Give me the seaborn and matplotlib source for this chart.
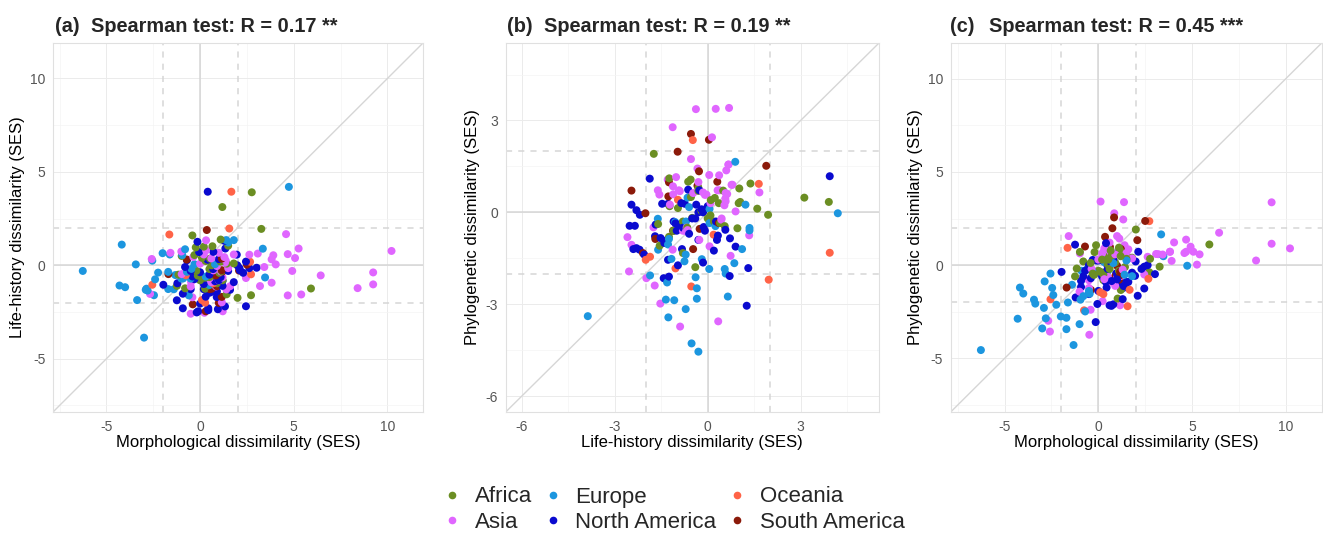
import numpy as np
import pandas as pd
import matplotlib
matplotlib.use("Agg")
import matplotlib.pyplot as plt
from matplotlib.lines import Line2D
from matplotlib.ticker import MultipleLocator
import seaborn as sns

# ---------------- data (SES values per community) ----------------
regions = ["Africa", "Asia", "Europe", "North America", "Oceania", "South America"]
region_colors = ["#6B8E23", "#E066FF", "#1C96DF", "#0A0ACF", "#FF6347", "#8B1A0A"]

africa_morph = [2.76, 1.19, 3.27, -0.41, 1.1, 0.66, 1.5, 0.2, -0.23, -0.98, 2.0, 2.72, 1.03, 1.42,
                -1.24, -0.12, 0.5, 1.8, 0.3, -0.8, 0.9, 0.4, 1.2, 0.6, 1.1, 0.1, -0.3, -1.15, 1.16,
                0.5, 0.0, 0.27, 0.53, 1.42, 0.27, 0.71, -0.2, 5.92]
africa_life = [3.91, 3.12, 1.95, 1.6, 1.38, 1.02, 1.05, 1.0, 0.96, 0.5, -1.74, -1.6, -0.4, -1.55,
               -1.1, -0.55, -0.63, 0.1, 0.23, -1.23, -0.96, -1.1, -0.8, 0.0, 0.2, 0.4, 0.55, -0.5, -0.3,
               -0.2, -0.8, -0.66, 0.36, 0.09, -1.25, -0.54, -0.3, -1.24]
africa_phylo = [0.34, 0.48, -0.08, 0.12, 0.94, 0.78, 0.34, 0.3, -0.52, 0.71, 1.91, -0.38, -1.79, -1.09,
                -0.6, 1.07, 1.0, 0.4, 0.47, 0.2, 0.14, -0.6, -1.33, -0.2, -0.3, -0.35, -0.45, -0.18, 0.8,
                0.05, -0.3, -0.5, 0.3, -0.1, -0.8, 0.5, 0.7, 1.11]

asia_morph = [10.22, 9.24, 9.24, 8.41, 6.44, 5.4, 5.26, 5.07, 4.92, 4.68, 4.68, 4.59, 4.04, 3.91, 3.82,
              3.82, 3.43, 3.2, 3.08, 2.63, 2.45, 1.37, 0.12, 0.85, 1.33, 1.12, -1.58, -2.67, -2.58, -0.48,
              -0.41, -1.0, 0.23, -0.5, 1.21, 1.16, 1.1, 0.32, 0.32, -0.98, 1.6, -0.5, 0.6, 1.5, 0.9,
              0.2, 1.8, 0.9, 1.3, 1.0, 0.5, 1.2, 1.0, 0.6, 1.4, 0.71, 0.0, -0.36]
asia_life = [0.77, -0.38, -1.02, -1.22, -0.54, -1.56, 0.9, 0.39, -0.3, 0.6, -1.61, 1.67, 0.05, 0.54, 0.32,
             -0.93, -0.09, -1.11, 0.63, 0.57, -0.68, 0.26, 0.69, -1.13, 0.14, -0.33, 0.67, -1.53, 0.34, -0.89,
             -1.71, 0.74, -2.54, -2.59, -2.46, -1.98, -1.75, 1.34, 0.8, -0.47, -1.12, -1.13, -0.9, -0.15, -0.04,
             0.58, 0.58, 0.06, 0.44, -0.8, -0.7, -0.65, 0.67, 0.37, -1.29, -0.27, 0.09, 0.45]
asia_phylo = [0.9, 3.37, 1.15, 0.25, 1.74, 0.58, 0.03, 0.72, 0.99, 1.37, 0.72, 0.65, 1.22, 0.23, 0.72,
              0.72, 0.57, 0.59, 0.6, 0.45, -0.5, 3.38, 3.41, 2.78, 2.45, 1.43, 1.56, -2.98, -3.56, -3.73,
              -2.39, -1.42, -1.93, -0.81, -1.06, -2.15, -0.49, -0.75, 0.9, 0.63, 0.85, -1.22, 0.69, 0.65, 0.58,
              0.63, 0.36, -1.11, -0.24, -0.6, -0.62, -0.58, 1.56, 1.21, 1.07, -0.9, 0.3, -0.2]

europe_morph = [-6.26, -4.18, -4.3, -4.0, -3.43, -3.36, -2.99, -2.9, -2.8, -2.46, -2.55, -2.0, -2.24,
                -2.4, -1.62, -1.32, -0.8, -0.46, 4.74, 3.35, 3.47, 1.4, 1.8, -1.7, -1.7, -1.0, -0.95,
                -0.7, -1.4, -2.86, -0.5, 1.5, -0.6, 0.3, 0.8, -0.3, -0.9, 0.5]
europe_life = [-0.3, 1.11, -1.08, -1.17, 0.05, -1.86, -3.87, -1.31, -1.35, -1.6, 0.25, 0.65, -0.39,
               -0.75, 0.58, -0.52, 0.86, -0.19, 4.2, 0.89, -0.65, 1.35, 1.35, -0.35, -1.27, -0.71, 0.55,
               -0.35, -1.28, -1.25, -0.71, 1.22, -1.61, -0.6, 0.06, 0.06, -0.7, -1.05]
europe_phylo = [-4.55, -1.2, -2.87, -1.52, -1.85, -2.06, -3.39, -2.29, -2.85, -1.22, -0.45, -2.75, -2.12,
                -1.6, -2.0, -4.28, -1.66, -1.53, -0.03, 1.65, 0.48, -0.51, -0.59, -2.82, -3.43, -3.16, -1.85,
                -2.48, -1.05, -0.87, -1.38, 0.25, -0.21, 0.17, 0.11, -0.35, -0.3, -0.32]

namerica_morph = [0.41, -0.14, 1.3, 2.1, -0.05, 0.6, 0.8, 0.7, -1.21, -0.5, 2.45, 3.02, 2.63, 1.99, 2.13,
                  1.96, -1.24, -1.96, -0.92, -0.18, -0.1, 0.44, 0.44, 1.33, 2.45, 0.0, 0.89, -0.92, 0.3,
                  0.5, 0.2, 0.8, -0.3, 1.1, 0.0, 1.2, 1.0, 0.71, 1.35, -0.7, -0.8, 1.6, 0.5, 1.0, 0.2,
                  1.5, 0.7, 1.2, -0.4, 0.9, 2.3, 1.8, 0.4, -0.5, 0.95]
namerica_life = [3.94, 1.26, 1.31, -0.15, 0.71, -1.42, -1.25, -1.35, -0.96, -1.28, 0.2, -0.13, -0.15, 0.0,
                 -0.27, 0.57, -1.87, -1.04, -2.3, -2.52, -2.46, -2.4, -2.3, -2.2, -2.19, -2.05, -1.7, -1.52,
                 -1.68, -1.47, -1.28, -0.85, -0.74, -0.63, -0.37, -0.83, 0.33, 0.72, 0.9, 0.27, -0.09, -1.31,
                 -0.5, -0.8, -1.0, -0.3, -0.2, -1.1, -0.6, -1.4, -0.4, -0.9, 0.3, -0.3, -2.35]
namerica_phylo = [1.18, -3.05, -1.82, -1.64, -2.08, -2.15, -2.1, -2.18, -1.73, -1.55, -1.25, -0.48, 0.0, 0.2,
                  0.72, -0.57, 1.1, -0.36, -1.17, -0.44, 0.25, -1.2, 0.07, -1.22, -0.08, -1.38, -0.78, -0.84,
                  -0.4, 0.28, 0.28, 0.3, 0.28, 0.74, 0.25, -1.2, -0.76, -0.85, -1.12, -0.3, -0.6, -0.9,
                  -0.2, -0.5, -0.6, -0.9, 0.1, -0.3, -0.7, -1.0, -0.2, -0.4, -0.9, 0.0, -0.44]

oceania_morph = [1.67, 1.56, -1.64, -2.55, 2.72, 2.67, 0.1, 0.27, -0.76, 0.7]
oceania_life = [3.94, 1.97, 1.65, -1.04, -0.48, 0.19, -1.86, -2.0, -0.53, -0.96]
oceania_phylo = [-1.32, -2.2, 0.93, -1.83, 2.36, -0.73, -1.45, -1.55, -2.42, 0.41]

samerica_morph = [0.36, -1.69, -0.39, 0.84, 2.5, 0.75, 2.08, -0.71, 0.62, 1.2, 0.3, 1.0, 0.5, 1.16, 0.9,
                  1.16, 1.16]
samerica_life = [1.89, -0.47, -2.09, -0.54, 0.04, -0.97, -0.28, 0.31, -1.25, -0.33, -2.46, -2.01, -1.27,
                 -1.69, -1.12, -0.26, 0.36]
samerica_phylo = [1.52, -1.2, -1.33, 2.56, 2.37, 1.98, 1.34, 1.0, 0.98, 0.87, 0.71, -0.03, 0.52, -0.87,
                  -0.6, -0.54, -0.35]

panel_tags = ["(a)", "(b)", "(c)"]
panel_titles = ["Spearman test: R = 0.17 **", "Spearman test: R = 0.19 **", "Spearman test: R = 0.45 ***"]
x_labels = ["Morphological dissimilarity (SES)", "Life-history dissimilarity (SES)",
            "Morphological dissimilarity (SES)"]
y_labels = ["Life-history dissimilarity (SES)", "Phylogenetic dissimilarity (SES)",
            "Phylogenetic dissimilarity (SES)"]

# ---------------- assemble ----------------
frames = []
for name, m, l, p in [
    ("Africa", africa_morph, africa_life, africa_phylo),
    ("Asia", asia_morph, asia_life, asia_phylo),
    ("Europe", europe_morph, europe_life, europe_phylo),
    ("North America", namerica_morph, namerica_life, namerica_phylo),
    ("Oceania", oceania_morph, oceania_life, oceania_phylo),
    ("South America", samerica_morph, samerica_life, samerica_phylo),
]:
    frames.append(pd.DataFrame({"morph": m, "life": l, "phylo": p, "region": name}))
df = pd.concat(frames, ignore_index=True)
df = df.sort_values("life", kind="stable").reset_index(drop=True)
palette = dict(zip(regions, region_colors))

sns.set_theme(style="white")
plt.rcParams["font.family"] = ["Liberation Sans", "DejaVu Sans"]
plt.rcParams["axes.unicode_minus"] = False

W, H = 1323, 534
fig = plt.figure(figsize=(W / 100, H / 100), dpi=100)
fig.patch.set_facecolor("white")


def rect(l, r, t, b):
    return [l / W, 1 - b / H, (r - l) / W, (b - t) / H]


panels = [
    dict(x="morph", y="life", box=(53, 423, 43, 412), lim=(-7.85, 11.9), major=5, minor=2.5,
         tagx=55, titlex=91),
    dict(x="life", y="phylo", box=(505.7, 879, 43, 412), lim=(-6.52, 5.53), major=3, minor=1.5,
         tagx=507.5, titlex=544.5),
    dict(x="morph", y="phylo", box=(950.7, 1321.7, 43, 412), lim=(-7.87, 11.91), major=5, minor=2.5,
         tagx=950, titlex=989),
]

ref_col = "#D6D6D6"
for i, pnl in enumerate(panels):
    l, r, t, b = pnl["box"]
    ax = fig.add_axes(rect(l, r, t, b))
    ax.set_facecolor("white")
    ax.set_xlim(*pnl["lim"])
    ax.set_ylim(*pnl["lim"])
    for axis in (ax.xaxis, ax.yaxis):
        axis.set_major_locator(MultipleLocator(pnl["major"]))
        axis.set_minor_locator(MultipleLocator(pnl["minor"]))
    ax.grid(which="major", color="#EBEBEB", linewidth=0.7)
    ax.grid(which="minor", color="#F4F4F4", linewidth=0.5)
    ax.set_axisbelow(True)
    for s in ax.spines.values():
        s.set_color("#E0E0E0")
        s.set_linewidth(0.8)

    # reference lines
    ax.axhline(0, color=ref_col, lw=1.1, zorder=1.5)
    ax.axvline(0, color=ref_col, lw=1.1, zorder=1.5)
    for v in (-2, 2):
        ax.axhline(v, color=ref_col, lw=1.1, ls=(0, (4, 4)), zorder=1.5)
        ax.axvline(v, color=ref_col, lw=1.1, ls=(0, (4, 4)), zorder=1.5)
    ax.axline((0, 0), (1, 1), color=ref_col, lw=1.0, zorder=1.5)

    sns.scatterplot(data=df, x=pnl["x"], y=pnl["y"], hue="region", hue_order=regions,
                    palette=palette, s=33, linewidth=0, alpha=1, legend=False, ax=ax, zorder=3)

    ax.tick_params(which="major", length=2.5, width=0.6, color="#C8C8C8", labelsize=10,
                   labelcolor="#555555", pad=3)
    ax.tick_params(which="minor", length=0)
    ax.set_xlabel(x_labels[i], fontsize=12, color="black")
    ax.set_ylabel(y_labels[i], fontsize=12, color="black")
    ax.xaxis.set_label_coords(0.5, -(443 - 412) / (b - t))
    ax.xaxis.label.set_va("center")
    ylab_x = {0: 18, 1: 473, 2: 915}[i]
    ax.yaxis.set_label_coords((ylab_x - l) / (r - l), 0.5)
    ax.yaxis.label.set_va("center")

    fig.text(pnl["tagx"] / W, 1 - 31.5 / H, panel_tags[i], fontsize=14.3, fontweight="bold",
             ha="left", va="baseline")
    fig.text(pnl["titlex"] / W, 1 - 31.5 / H, panel_titles[i], fontsize=14.3, fontweight="bold",
             ha="left", va="baseline")

handles = [Line2D([], [], marker="o", linestyle="", markersize=5.5, markeredgewidth=0,
                  color=c) for c in region_colors]
fig.legend(handles, regions, ncol=3, loc="center", bbox_to_anchor=(674 / W, 1 - 509.5 / H),
           frameon=False, fontsize=16, handlelength=0.8, handletextpad=0.6,
           columnspacing=0.55, labelspacing=0.18, borderpad=0)

fig.savefig("out.png", dpi=100, facecolor="white")
